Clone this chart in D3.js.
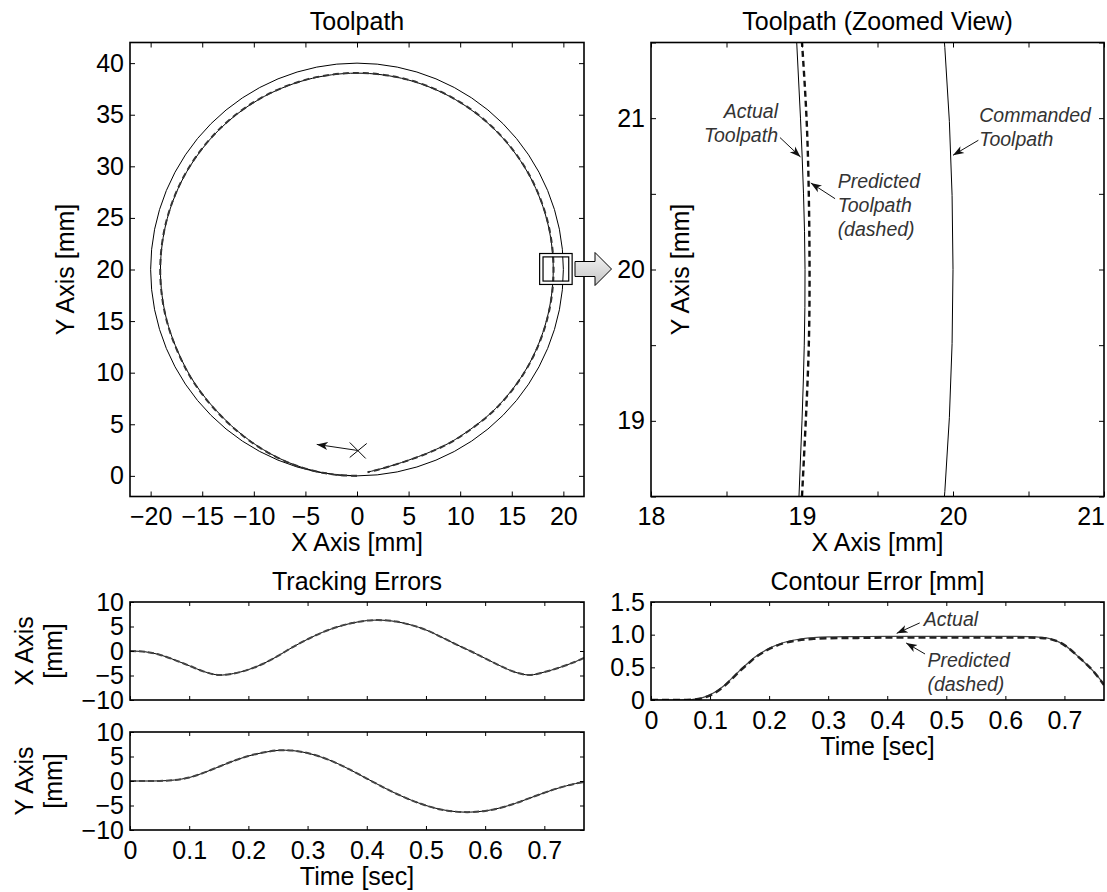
<!DOCTYPE html>
<html>
<head>
<meta charset="utf-8">
<script src="https://cdn.jsdelivr.net/npm/d3@7"></script>
<style>
body { margin: 0; background: #fff; }
text { font-family: "Liberation Sans", Arial, Helvetica, sans-serif; }
</style>
</head>
<body>
<div id="graph"></div>
<script>
// ---- data ----

// toolpath, angle in degrees measured clockwise from the start point (0,0)
var pathAngle  = [0, 5, 10, 15, 20, 25, 30, 35, 40, 50, 60, 75, 90, 105, 120, 135, 150, 165, 180, 195, 210, 225, 240, 255, 270, 285, 300, 315, 330, 338, 343, 347, 351, 354, 357];
var actualR    = [20, 20, 19.97, 19.92, 19.84, 19.73, 19.62, 19.5, 19.4, 19.25, 19.15, 19.08, 19.05, 19.04, 19.03, 19.03, 19.03, 19.03, 19.03, 19.03, 19.03, 19.03, 19.03, 19.02, 19.02, 19.02, 19.03, 19.03, 19.03, 19.05, 19.1, 19.2, 19.35, 19.5, 19.66];
var predictedR = [20, 20, 19.97, 19.93, 19.86, 19.75, 19.65, 19.53, 19.43, 19.28, 19.18, 19.1, 19.07, 19.06, 19.05, 19.05, 19.05, 19.05, 19.05, 19.05, 19.05, 19.05, 19.05, 19.05, 19.05, 19.05, 19.05, 19.05, 19.05, 19.07, 19.12, 19.21, 19.36, 19.51, 19.67];
var cmdCenter = [0, 20];
var cmdRadius = 20;

// zoomed view near (19, 20)
var zoomY       = [18.5, 19, 19.5, 20, 20.5, 21, 21.5];
var zoomActualX = [18.98, 19.0, 19.015, 19.02, 19.01, 18.99, 18.965];
var zoomPredX   = [19.0, 19.025, 19.045, 19.05, 19.045, 19.03, 19.0];
var zoomBox = [17.7, 20.85, 18.55, 21.55];

// tracking errors [mm]
var trackT     = [0, 0.025, 0.05, 0.075, 0.1, 0.125, 0.15, 0.175, 0.2, 0.225, 0.25, 0.275, 0.3, 0.325, 0.35, 0.375, 0.4, 0.425, 0.45, 0.475, 0.5, 0.525, 0.55, 0.575, 0.6, 0.625, 0.65, 0.675, 0.7, 0.725, 0.75, 0.767];
var xErrActual = [0, -0.15, -0.75, -1.8, -3.0, -4.2, -4.9, -4.6, -3.8, -2.6, -1.0, 0.8, 2.4, 3.8, 4.9, 5.7, 6.2, 6.3, 6.0, 5.3, 4.3, 2.9, 1.4, 0.0, -1.5, -3.0, -4.3, -4.9, -4.3, -3.4, -2.3, -1.4];
var xErrPred   = [0, -0.15, -0.75, -1.8, -3.0, -4.2, -4.9, -4.6, -3.8, -2.6, -1.0, 0.8, 2.4, 3.8, 4.9, 5.7, 6.2, 6.3, 6.0, 5.3, 4.3, 2.9, 1.4, 0.0, -1.5, -3.0, -4.3, -4.9, -4.3, -3.4, -2.3, -1.4];
var yErrActual = [0, 0, 0.02, 0.2, 0.7, 1.7, 2.9, 4.1, 5.1, 5.8, 6.25, 6.2, 5.7, 4.8, 3.6, 2.1, 0.5, -1.1, -2.6, -3.9, -5.0, -5.8, -6.25, -6.35, -6.1, -5.5, -4.6, -3.5, -2.4, -1.4, -0.6, -0.2];
var yErrPred   = [0, 0, 0.02, 0.2, 0.7, 1.7, 2.9, 4.1, 5.1, 5.8, 6.25, 6.2, 5.7, 4.8, 3.6, 2.1, 0.5, -1.1, -2.6, -3.9, -5.0, -5.8, -6.25, -6.35, -6.1, -5.5, -4.6, -3.5, -2.4, -1.4, -0.6, -0.2];

// contour error [mm]
var contourT      = [0, 0.025, 0.05, 0.06, 0.07, 0.08, 0.09, 0.1, 0.11, 0.125, 0.14, 0.15, 0.165, 0.175, 0.19, 0.2, 0.225, 0.25, 0.275, 0.3, 0.35, 0.4, 0.45, 0.5, 0.55, 0.6, 0.64, 0.66, 0.675, 0.69, 0.7, 0.725, 0.75, 0.767];
var contourActual = [0, 0, 0, 0.002, 0.008, 0.02, 0.045, 0.08, 0.13, 0.23, 0.36, 0.45, 0.57, 0.65, 0.74, 0.79, 0.88, 0.93, 0.955, 0.965, 0.97, 0.975, 0.975, 0.975, 0.975, 0.975, 0.97, 0.96, 0.94, 0.89, 0.84, 0.65, 0.43, 0.24];
var contourPred   = [0, 0, 0, 0.001, 0.005, 0.015, 0.035, 0.07, 0.12, 0.22, 0.35, 0.44, 0.56, 0.64, 0.73, 0.78, 0.87, 0.915, 0.935, 0.945, 0.95, 0.955, 0.955, 0.955, 0.955, 0.955, 0.955, 0.95, 0.935, 0.89, 0.84, 0.65, 0.43, 0.23];

// tick values
var toolX = [-20, -15, -10, -5, 0, 5, 10, 15, 20];
var toolY = [0, 5, 10, 15, 20, 25, 30, 35, 40];
var zoomXTicks = [18, 18.5, 19, 19.5, 20, 20.5, 21];
var zoomYTicks = [18.5, 19, 19.5, 20, 20.5, 21, 21.5];
var timeTicks = [0, 0.1, 0.2, 0.3, 0.4, 0.5, 0.6, 0.7];
var errTicks = [-10, -5, 0, 5, 10];
var contourTicks = [0, 0.5, 1, 1.5];

// ---- figure ----
var W = 1107, H = 892;
var fontSize = 25;
var clipCount = 0;

var svg = d3.select('#graph').append('svg')
    .attr('width', W)
    .attr('height', H)
    .style('background', '#fff');

var defs = svg.append("defs");
defs.append("marker")
    .attr("id", "head")
    .attr("markerUnits", "userSpaceOnUse")
    .attr("markerWidth", 12)
    .attr("markerHeight", 10)
    .attr("refX", 11)
    .attr("refY", 5)
    .attr("orient", "auto")
    .append("path")
    .attr("d", "M0,1 L11,5 L0,9 L3,5 Z")
    .attr("fill", "#111");

var grad = defs.append("linearGradient")
    .attr("id", "arrowFill")
    .attr("x1", 0).attr("y1", 0).attr("x2", 0).attr("y2", 1);
grad.append("stop").attr("offset", "0%").attr("stop-color", "#f6f6f6");
grad.append("stop").attr("offset", "100%").attr("stop-color", "#c4c4c4");

function panel(left, top, w, h, xDom, yDom, xTicks, yTicks, xFmt, yFmt, tickLen) {
    var g = svg.append("g").attr("transform", "translate(" + left + "," + top + ")");
    var x = d3.scaleLinear().domain(xDom).range([0, w]);
    var y = d3.scaleLinear().domain(yDom).range([h, 0]);

    var id = "clip" + (clipCount++);
    g.append("clipPath").attr("id", id)
        .append("rect").attr("width", w).attr("height", h);
    var plot = g.append("g").attr("clip-path", "url(#" + id + ")");

    function style(sel) {
        sel.select(".domain").remove();
        sel.attr("font-size", fontSize)
           .attr("font-family", '"Liberation Sans", Arial, sans-serif');
        sel.selectAll(".tick line").attr("stroke", "#000").attr("stroke-width", 1);
        sel.selectAll(".tick text").attr("fill", "#000");
    }

    var bottom = g.append("g").attr("transform", "translate(0," + h + ")")
        .call(d3.axisBottom(x).tickValues(xTicks).tickFormat(xFmt).tickSize(-tickLen).tickSizeOuter(0).tickPadding(11))
        .call(style);
    g.append("g")
        .call(d3.axisTop(x).tickValues(xTicks).tickFormat("").tickSize(-tickLen).tickSizeOuter(0))
        .call(style);
    g.append("g")
        .call(d3.axisLeft(y).tickValues(yTicks).tickFormat(yFmt).tickSize(-tickLen).tickSizeOuter(0).tickPadding(6))
        .call(style);
    g.append("g").attr("transform", "translate(" + w + ",0)")
        .call(d3.axisRight(y).tickValues(yTicks).tickFormat("").tickSize(-tickLen).tickSizeOuter(0))
        .call(style);

    // keep a label at the right page edge inside the picture
    bottom.selectAll(".tick text").each(function() {
        var b = this.getBBox();
        var m = this.parentNode.transform.baseVal.consolidate().matrix;
        var over = left + m.e + b.x + b.width - (W - 2);
        if (over > 0) d3.select(this).attr("x", -over);
    });

    return { g: g, plot: plot, x: x, y: y, w: w, h: h };
}

function frame(p) {
    p.g.append("rect")
        .attr("width", p.w).attr("height", p.h)
        .attr("fill", "none").attr("stroke", "#000").attr("stroke-width", 1.6);
}

function label(txt, x, y, opts) {
    opts = opts || {};
    var t = svg.append("text")
        .attr("x", x).attr("y", y)
        .attr("text-anchor", opts.anchor || "middle")
        .style("font-size", (opts.size || fontSize) + "px")
        .style("fill", opts.fill || "#000")
        .text(txt);
    if (opts.rotate) t.attr("transform", "rotate(-90," + x + "," + y + ")");
    return t;
}

function note(p, lines, x, y, anchor) {
    lines.forEach(function(s, i) {
        p.g.append("text")
            .attr("x", p.x(x)).attr("y", p.y(y) + i * 24)
            .attr("text-anchor", anchor)
            .style("font-size", "19.5px")
            .style("font-style", "italic")
            .style("fill", "#333")
            .text(s);
    });
}

function pointer(p, x1, y1, x2, y2) {
    p.g.append("line")
        .attr("x1", p.x(x1)).attr("y1", p.y(y1))
        .attr("x2", p.x(x2)).attr("y2", p.y(y2))
        .attr("stroke", "#111").attr("stroke-width", 1)
        .attr("marker-end", "url(#head)");
}

var intFmt = function(d) { return d3.format("d")(d); };

// ---- Toolpath ----
var A = panel(130, 42.5, 454, 454, [-22, 22], [-2, 42], toolX, toolY, intFmt, intFmt, 5);

A.plot.append("circle")
    .attr("cx", A.x(cmdCenter[0])).attr("cy", A.y(cmdCenter[1]))
    .attr("r", A.x(cmdRadius) - A.x(0))
    .attr("fill", "none").attr("stroke", "#000").attr("stroke-width", 1);

var polar = pathAngle.map(function(a, i) { return { a: a * Math.PI / 180, r: actualR[i], rp: predictedR[i] }; });

var actualLine = d3.line()
    .x(function(d) { return A.x(cmdCenter[0] - d.r * Math.sin(d.a)); })
    .y(function(d) { return A.y(cmdCenter[1] - d.r * Math.cos(d.a)); })
    .curve(d3.curveCatmullRom);
var predLine = d3.line()
    .x(function(d) { return A.x(cmdCenter[0] - d.rp * Math.sin(d.a)); })
    .y(function(d) { return A.y(cmdCenter[1] - d.rp * Math.cos(d.a)); })
    .curve(d3.curveCatmullRom);

A.plot.append("path").datum(polar).attr("d", actualLine)
    .attr("fill", "none").attr("stroke", "#000").attr("stroke-width", 1);
A.plot.append("path").datum(polar).attr("d", predLine)
    .attr("fill", "none").attr("stroke", "#333").attr("stroke-width", 2)
    .attr("stroke-dasharray", "6,4");

// box marking the zoomed region
var bx = A.x(zoomBox[0]), by = A.y(zoomBox[3]);
var bw = A.x(zoomBox[1]) - bx, bh = A.y(zoomBox[2]) - by;
A.g.append("rect").attr("x", bx + 1.7).attr("y", by + 1.7).attr("width", bw - 3.4).attr("height", bh - 3.4)
    .attr("fill", "none").attr("stroke", "#fff").attr("stroke-width", 3);
A.g.append("rect").attr("x", bx).attr("y", by).attr("width", bw).attr("height", bh)
    .attr("fill", "none").attr("stroke", "#000").attr("stroke-width", 1.2);
A.g.append("rect").attr("x", bx + 3.4).attr("y", by + 3.4).attr("width", bw - 6.8).attr("height", bh - 6.8)
    .attr("fill", "none").attr("stroke", "#000").attr("stroke-width", 1.2);

// start marker and direction arrow
var startMark = [0.07, 2.46];
var sx = A.x(startMark[0]), sy = A.y(startMark[1]);
A.g.append("path")
    .attr("d", "M" + (sx - 8) + "," + (sy - 8) + "L" + (sx + 8) + "," + (sy + 8) +
               "M" + (sx + 9) + "," + (sy - 7) + "L" + (sx - 8) + "," + (sy + 7))
    .attr("stroke", "#000").attr("stroke-width", 1);
pointer(A, startMark[0], startMark[1], -3.9, 3.05);

frame(A);

// block arrow to the zoomed view
svg.append("path")
    .attr("d", "M575,261.5 L595,261.5 L595,252.5 L611.5,269 L595,285.5 L595,276.5 L575,276.5 Z")
    .attr("fill", "url(#arrowFill)")
    .attr("stroke", "#000").attr("stroke-width", 1);

// ---- Toolpath (Zoomed View) ----
var B = panel(651, 42.5, 453, 454, [18, 21], [18.5, 21.5], zoomXTicks, zoomYTicks,
    function(d) { return Number.isInteger(d) ? d : ""; },
    function(d) { return Number.isInteger(d) ? d : ""; }, 5);

B.plot.append("circle")
    .attr("cx", B.x(cmdCenter[0])).attr("cy", B.y(cmdCenter[1]))
    .attr("r", B.x(cmdRadius) - B.x(0))
    .attr("fill", "none").attr("stroke", "#000").attr("stroke-width", 1);

var zActual = d3.line()
    .x(function(d, i) { return B.x(zoomActualX[i]); })
    .y(function(d) { return B.y(d); })
    .curve(d3.curveNatural);
var zPred = d3.line()
    .x(function(d, i) { return B.x(zoomPredX[i]); })
    .y(function(d) { return B.y(d); })
    .curve(d3.curveNatural);

B.plot.append("path").datum(zoomY).attr("d", zActual)
    .attr("fill", "none").attr("stroke", "#000").attr("stroke-width", 1);
B.plot.append("path").datum(zoomY).attr("d", zPred)
    .attr("fill", "none").attr("stroke", "#111").attr("stroke-width", 2.4)
    .attr("stroke-dasharray", "6,4");

note(B, ["Actual", "Toolpath"], 18.841, 21.0, "end");
pointer(B, 18.854, 20.872, 18.99, 20.744);
note(B, ["Predicted", "Toolpath", "(dashed)"], 19.236, 20.536, "start");
pointer(B, 19.219, 20.468, 19.058, 20.572);
note(B, ["Commanded", "Toolpath"], 20.174, 20.974, "start");
pointer(B, 20.168, 20.854, 20.0, 20.755);

frame(B);

// ---- Tracking Errors ----
var C = panel(130, 602, 454, 98, [0, 0.767], [-10, 10], timeTicks, errTicks, "", intFmt, 4);
var D = panel(130, 732, 454, 98, [0, 0.767], [-10, 10], timeTicks, errTicks, d3.format("~g"), intFmt, 4);

function track(p, actual, pred) {
    var la = d3.line()
        .x(function(d, i) { return p.x(trackT[i]); })
        .y(function(d) { return p.y(d); })
        .curve(d3.curveCatmullRom);
    p.plot.append("path").datum(actual).attr("d", la)
        .attr("fill", "none").attr("stroke", "#000").attr("stroke-width", 1);
    p.plot.append("path").datum(pred).attr("d", la)
        .attr("fill", "none").attr("stroke", "#444").attr("stroke-width", 2)
        .attr("stroke-dasharray", "6,3");
    frame(p);
}
track(C, xErrActual, xErrPred);
track(D, yErrActual, yErrPred);

// ---- Contour Error ----
var E = panel(651, 602, 453, 98, [0, 0.767], [0, 1.5], timeTicks, contourTicks, d3.format("~g"),
    function(d) { return d === 0 ? "0" : d3.format(".1f")(d); }, 4);

var ce = d3.line()
    .x(function(d, i) { return E.x(contourT[i]); })
    .y(function(d) { return E.y(d); })
    .curve(d3.curveMonotoneX);
E.plot.append("path").datum(contourActual).attr("d", ce)
    .attr("fill", "none").attr("stroke", "#444").attr("stroke-width", 1.2);
E.plot.append("path").datum(contourPred).attr("d", ce)
    .attr("fill", "none").attr("stroke", "#222").attr("stroke-width", 2.4)
    .attr("stroke-dasharray", "7,4");

note(E, ["Actual"], 0.462, 1.14, "start");
pointer(E, 0.455, 1.18, 0.416, 1.02);
note(E, ["Predicted", "(dashed)"], 0.468, 0.5, "start");
pointer(E, 0.464, 0.704, 0.432, 0.873);

frame(E);

// ---- titles and axis labels ----
label("Toolpath", 357, 30);
label("Toolpath (Zoomed View)", 877.5, 30);
label("X Axis [mm]", 357, 551);
label("X Axis [mm]", 877.5, 551);
label("Y Axis [mm]", 74, 269.5, { rotate: true });
label("Y Axis [mm]", 689, 269.5, { rotate: true });

label("Tracking Errors", 357, 590);
label("X Axis", 33, 651, { rotate: true });
label("[mm]", 62, 651, { rotate: true });
label("Y Axis", 33, 781, { rotate: true });
label("[mm]", 62, 781, { rotate: true });
label("Time [sec]", 357, 885);

label("Contour Error [mm]", 877.5, 590);
label("Time [sec]", 877.5, 755);
</script>
</body>
</html>
